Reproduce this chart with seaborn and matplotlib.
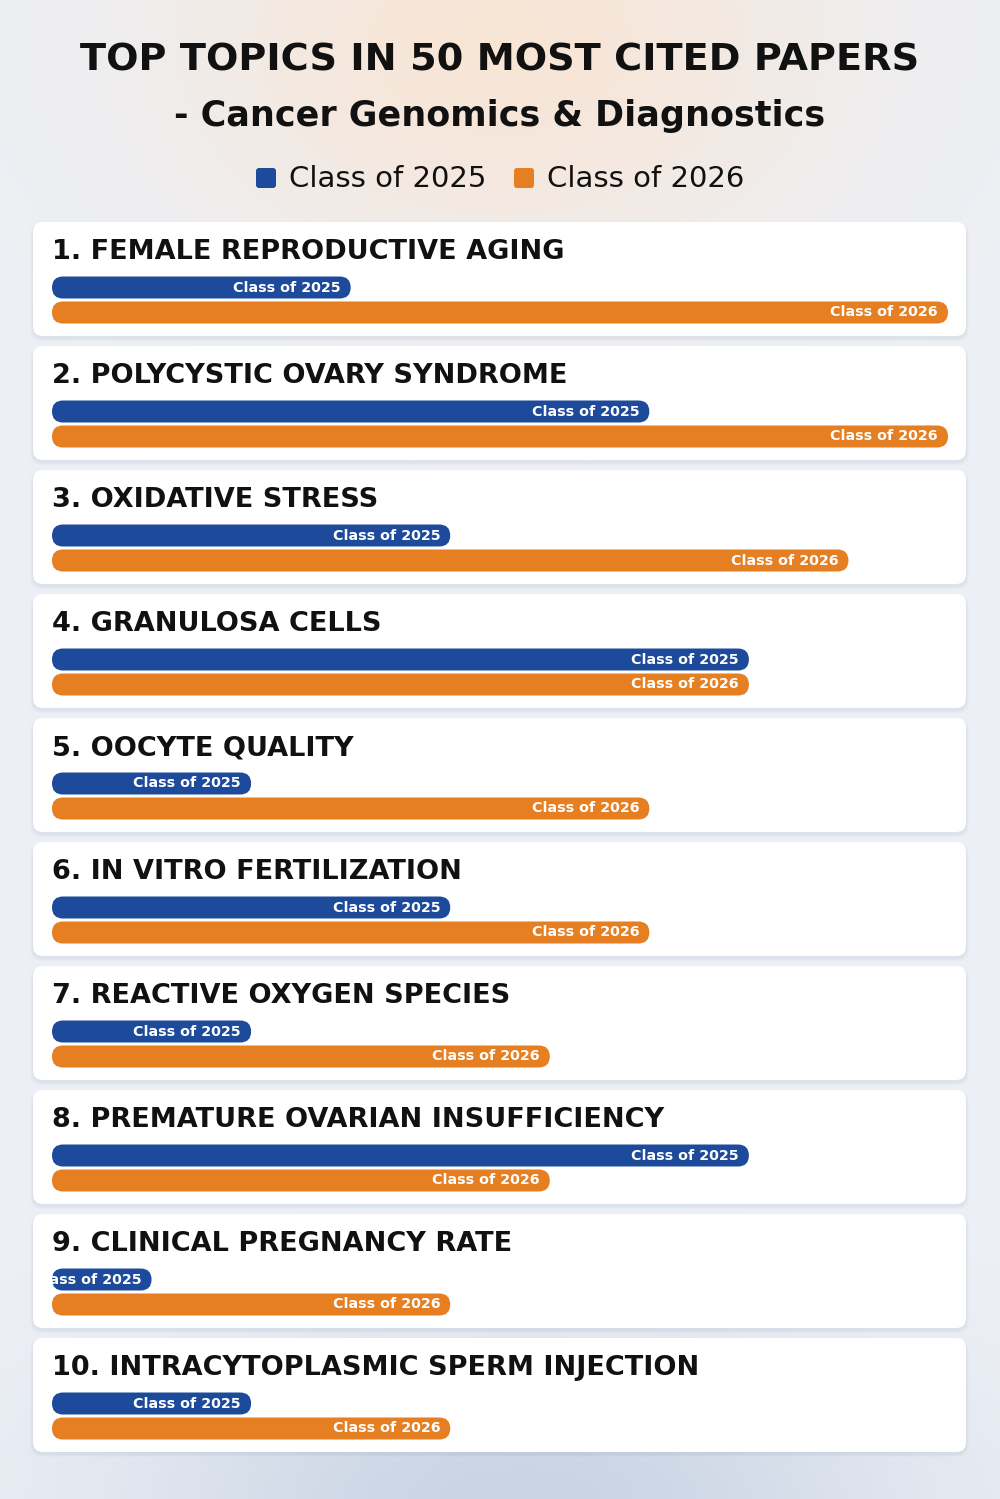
import numpy as np
import pandas as pd
import matplotlib
matplotlib.use("Agg")
import matplotlib.pyplot as plt
from matplotlib.patches import FancyBboxPatch
from matplotlib.transforms import Bbox, TransformedBbox
import seaborn as sns

# ---------------- data ----------------
topics = [
    "1. FEMALE REPRODUCTIVE AGING",
    "2. POLYCYSTIC OVARY SYNDROME",
    "3. OXIDATIVE STRESS",
    "4. GRANULOSA CELLS",
    "5. OOCYTE QUALITY",
    "6. IN VITRO FERTILIZATION",
    "7. REACTIVE OXYGEN SPECIES",
    "8. PREMATURE OVARIAN INSUFFICIENCY",
    "9. CLINICAL PREGNANCY RATE",
    "10. INTRACYTOPLASMIC SPERM INJECTION",
]
class_2025 = [3, 6, 4, 7, 2, 4, 2, 7, 1, 2]
class_2026 = [9, 9, 8, 7, 6, 6, 5, 5, 4, 4]
series_names = ["Class of 2025", "Class of 2026"]
title_line1 = "TOP TOPICS IN 50 MOST CITED PAPERS"
title_line2 = "- Cancer Genomics & Diagnostics"

# ---------------- style ----------------
BLUE = "#1d4a9a"
ORANGE = "#e67e22"
TEXT = "#111111"
W, H = 1000, 1499
sns.set_theme(style="white")
plt.rcParams["font.family"] = ["DejaVu Sans"]

fig = plt.figure(figsize=(W / 100, H / 100), dpi=100)

# background axes in pixel coordinates
bg = fig.add_axes([0, 0, 1, 1])
bg.set_xlim(0, W)
bg.set_ylim(H, 0)
bg.axis("off")

yy, xx = np.mgrid[0:H, 0:W]
base = np.array([0.928, 0.940, 0.962])
img = np.ones((H, W, 3)) * base
# warm glow at top centre
g1 = np.exp(-(((xx - 500) / 320.0) ** 2 + ((yy - 40) / 230.0) ** 2))
warm = np.array([0.972, 0.900, 0.840])
img = img * (1 - g1[..., None]) + warm * g1[..., None]
# cool glow at bottom centre
g2 = np.exp(-(((xx - 520) / 380.0) ** 2 + ((yy - 1499) / 150.0) ** 2))
cool = np.array([0.790, 0.830, 0.895])
img = img * (1 - g2[..., None]) + cool * g2[..., None]
bg.imshow(img, extent=(0, W, H, 0), aspect="auto", zorder=0)

# titles
bg.text(W / 2, 60, title_line1, ha="center", va="center", fontsize=27.5,
        fontweight="bold", color=TEXT, zorder=5)
bg.text(W / 2, 116, title_line2, ha="center", va="center", fontsize=25.2,
        fontweight="bold", color=TEXT, zorder=5)

# legend
leg_items = [(256, series_names[0], BLUE), (514, series_names[1], ORANGE)]
for x0, lab, col in leg_items:
    bg.add_patch(FancyBboxPatch((x0, 168), 20, 20,
                                boxstyle="round,pad=0,rounding_size=3",
                                fc=col, ec="none", zorder=5))
    bg.text(x0 + 33, 179, lab, ha="left", va="center", fontsize=21,
            color=TEXT, zorder=5)

# cards
card_top0 = 222
card_step = 124
card_h = 114
card_x0, card_x1 = 33, 966
bar_x0, bar_x1 = 52, 948
xmax = max(max(class_2025), max(class_2026))

for i, topic in enumerate(topics):
    top = card_top0 + i * card_step
    # shadow
    for k, a in enumerate([0.035, 0.03, 0.025]):
        bg.add_patch(FancyBboxPatch((card_x0 - 1 - k, top + 1 - k + 2),
                                    card_x1 - card_x0 + 2 + 2 * k, card_h + 2 * k,
                                    boxstyle="round,pad=0,rounding_size=12",
                                    fc="#5a6a8a", ec="none", alpha=a, zorder=1))
    bg.add_patch(FancyBboxPatch((card_x0, top), card_x1 - card_x0, card_h,
                                boxstyle="round,pad=0,rounding_size=10",
                                fc="white", ec="none", zorder=2))
    bg.text(bar_x0, top + 30, topic, ha="left", va="center", fontsize=19.5,
            fontweight="bold", color=TEXT, zorder=5)

    # bar axes
    ax_top = top + 53
    ax_h = 50
    ax = fig.add_axes([bar_x0 / W, 1 - (ax_top + ax_h) / H,
                       (bar_x1 - bar_x0) / W, ax_h / H])
    ax.patch.set_alpha(0)
    df = pd.DataFrame({"cohort": series_names,
                       "count": [class_2025[i], class_2026[i]]})
    sns.barplot(data=df, x="count", y="cohort", hue="cohort",
                palette=[BLUE, ORANGE], ax=ax, width=0.88, legend=False,
                saturation=1)
    ax.set_xlim(0, xmax)
    ax.set_ylim(1.5, -0.5)
    ax.axis("off")

    # replace rectangles with rounded pills
    x_per_px = xmax / (bar_x1 - bar_x0)
    y_per_px = 2.0 / ax_h
    rects = list(ax.patches)
    for rect in rects:
        x, y = rect.get_x(), rect.get_y()
        w, h = rect.get_width(), rect.get_height()
        if w <= 0:
            continue
        col = rect.get_facecolor()
        rect.remove()
        h_px = h / y_per_px
        r = (h_px / 2) * x_per_px
        pill = FancyBboxPatch((x, y), w, h,
                              boxstyle=f"round,pad=0,rounding_size={r}",
                              mutation_aspect=y_per_px / x_per_px,
                              fc=col, ec="none", zorder=3)
        ax.add_patch(pill)
        yc = y + h / 2
        lab = series_names[0] if abs(yc - 0) < 0.5 else series_names[1]
        t = ax.text(x + w - 10 * x_per_px, yc, lab, ha="right", va="center",
                    fontsize=10.3, fontweight="bold", color="white", zorder=4)
        t.set_clip_box(TransformedBbox(Bbox([[x, y], [x + w, y + h]]),
                                       ax.transData))
        t.set_clip_on(True)

fig.savefig("out.png", dpi=100)
